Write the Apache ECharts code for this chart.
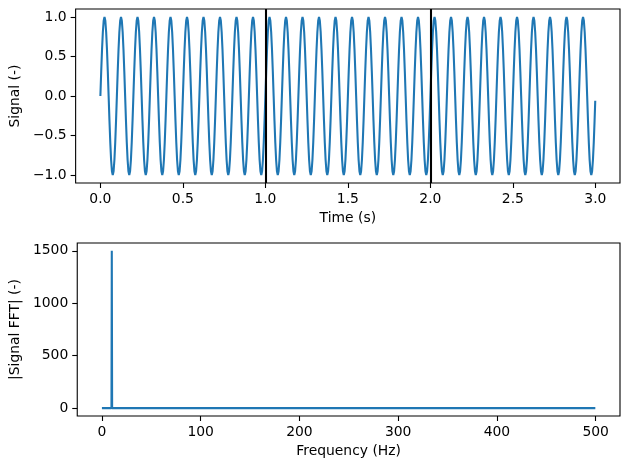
<!DOCTYPE html>
<html>
<head>
<meta charset="utf-8">
<script src="https://cdn.jsdelivr.net/npm/echarts@6/dist/echarts.min.js"></script>
<style>html,body{margin:0;padding:0;background:#fff;}#c{width:630px;height:469px;}</style>
</head>
<body>
<div id="c"></div>
<script>
// Time samples (s)
const time = [
0,0.005,0.01,0.015,0.02,0.025,0.03,0.035,0.04,0.045,0.05,0.055,0.06,0.065,0.07,0.075,0.08,0.085,0.09,0.095,
0.1,0.105,0.11,0.115,0.12,0.125,0.13,0.135,0.14,0.145,0.15,0.155,0.16,0.165,0.17,0.175,0.18,0.185,0.19,0.195,
0.2,0.205,0.21,0.215,0.22,0.225,0.23,0.235,0.24,0.245,0.25,0.255,0.26,0.265,0.27,0.275,0.28,0.285,0.29,0.295,
0.3,0.305,0.31,0.315,0.32,0.325,0.33,0.335,0.34,0.345,0.35,0.355,0.36,0.365,0.37,0.375,0.38,0.385,0.39,0.395,
0.4,0.405,0.41,0.415,0.42,0.425,0.43,0.435,0.44,0.445,0.45,0.455,0.46,0.465,0.47,0.475,0.48,0.485,0.49,0.495,
0.5,0.505,0.51,0.515,0.52,0.525,0.53,0.535,0.54,0.545,0.55,0.555,0.56,0.565,0.57,0.575,0.58,0.585,0.59,0.595,
0.6,0.605,0.61,0.615,0.62,0.625,0.63,0.635,0.64,0.645,0.65,0.655,0.66,0.665,0.67,0.675,0.68,0.685,0.69,0.695,
0.7,0.705,0.71,0.715,0.72,0.725,0.73,0.735,0.74,0.745,0.75,0.755,0.76,0.765,0.77,0.775,0.78,0.785,0.79,0.795,
0.8,0.805,0.81,0.815,0.82,0.825,0.83,0.835,0.84,0.845,0.85,0.855,0.86,0.865,0.87,0.875,0.88,0.885,0.89,0.895,
0.9,0.905,0.91,0.915,0.92,0.925,0.93,0.935,0.94,0.945,0.95,0.955,0.96,0.965,0.97,0.975,0.98,0.985,0.99,0.995,
1.0,1.005,1.01,1.015,1.02,1.025,1.03,1.035,1.04,1.045,1.05,1.055,1.06,1.065,1.07,1.075,1.08,1.085,1.09,1.095,
1.1,1.105,1.11,1.115,1.12,1.125,1.13,1.135,1.14,1.145,1.15,1.155,1.16,1.165,1.17,1.175,1.18,1.185,1.19,1.195,
1.2,1.205,1.21,1.215,1.22,1.225,1.23,1.235,1.24,1.245,1.25,1.255,1.26,1.265,1.27,1.275,1.28,1.285,1.29,1.295,
1.3,1.305,1.31,1.315,1.32,1.325,1.33,1.335,1.34,1.345,1.35,1.355,1.36,1.365,1.37,1.375,1.38,1.385,1.39,1.395,
1.4,1.405,1.41,1.415,1.42,1.425,1.43,1.435,1.44,1.445,1.45,1.455,1.46,1.465,1.47,1.475,1.48,1.485,1.49,1.495,
1.5,1.505,1.51,1.515,1.52,1.525,1.53,1.535,1.54,1.545,1.55,1.555,1.56,1.565,1.57,1.575,1.58,1.585,1.59,1.595,
1.6,1.605,1.61,1.615,1.62,1.625,1.63,1.635,1.64,1.645,1.65,1.655,1.66,1.665,1.67,1.675,1.68,1.685,1.69,1.695,
1.7,1.705,1.71,1.715,1.72,1.725,1.73,1.735,1.74,1.745,1.75,1.755,1.76,1.765,1.77,1.775,1.78,1.785,1.79,1.795,
1.8,1.805,1.81,1.815,1.82,1.825,1.83,1.835,1.84,1.845,1.85,1.855,1.86,1.865,1.87,1.875,1.88,1.885,1.89,1.895,
1.9,1.905,1.91,1.915,1.92,1.925,1.93,1.935,1.94,1.945,1.95,1.955,1.96,1.965,1.97,1.975,1.98,1.985,1.99,1.995,
2.0,2.005,2.01,2.015,2.02,2.025,2.03,2.035,2.04,2.045,2.05,2.055,2.06,2.065,2.07,2.075,2.08,2.085,2.09,2.095,
2.1,2.105,2.11,2.115,2.12,2.125,2.13,2.135,2.14,2.145,2.15,2.155,2.16,2.165,2.17,2.175,2.18,2.185,2.19,2.195,
2.2,2.205,2.21,2.215,2.22,2.225,2.23,2.235,2.24,2.245,2.25,2.255,2.26,2.265,2.27,2.275,2.28,2.285,2.29,2.295,
2.3,2.305,2.31,2.315,2.32,2.325,2.33,2.335,2.34,2.345,2.35,2.355,2.36,2.365,2.37,2.375,2.38,2.385,2.39,2.395,
2.4,2.405,2.41,2.415,2.42,2.425,2.43,2.435,2.44,2.445,2.45,2.455,2.46,2.465,2.47,2.475,2.48,2.485,2.49,2.495,
2.5,2.505,2.51,2.515,2.52,2.525,2.53,2.535,2.54,2.545,2.55,2.555,2.56,2.565,2.57,2.575,2.58,2.585,2.59,2.595,
2.6,2.605,2.61,2.615,2.62,2.625,2.63,2.635,2.64,2.645,2.65,2.655,2.66,2.665,2.67,2.675,2.68,2.685,2.69,2.695,
2.7,2.705,2.71,2.715,2.72,2.725,2.73,2.735,2.74,2.745,2.75,2.755,2.76,2.765,2.77,2.775,2.78,2.785,2.79,2.795,
2.8,2.805,2.81,2.815,2.82,2.825,2.83,2.835,2.84,2.845,2.85,2.855,2.86,2.865,2.87,2.875,2.88,2.885,2.89,2.895,
2.9,2.905,2.91,2.915,2.92,2.925,2.93,2.935,2.94,2.945,2.95,2.955,2.96,2.965,2.97,2.975,2.98,2.985,2.99,2.995,
2.999
];
// Signal values (-)
const signal = [
0,0.309,0.588,0.809,0.951,1,0.951,0.809,0.588,0.309,0,-0.309,-0.588,-0.809,-0.951,-1,-0.951,-0.809,-0.588,-0.309,
0,0.309,0.588,0.809,0.951,1,0.951,0.809,0.588,0.309,0,-0.309,-0.588,-0.809,-0.951,-1,-0.951,-0.809,-0.588,-0.309,
0,0.309,0.588,0.809,0.951,1,0.951,0.809,0.588,0.309,0,-0.309,-0.588,-0.809,-0.951,-1,-0.951,-0.809,-0.588,-0.309,
0,0.309,0.588,0.809,0.951,1,0.951,0.809,0.588,0.309,0,-0.309,-0.588,-0.809,-0.951,-1,-0.951,-0.809,-0.588,-0.309,
0,0.309,0.588,0.809,0.951,1,0.951,0.809,0.588,0.309,0,-0.309,-0.588,-0.809,-0.951,-1,-0.951,-0.809,-0.588,-0.309,
0,0.309,0.588,0.809,0.951,1,0.951,0.809,0.588,0.309,0,-0.309,-0.588,-0.809,-0.951,-1,-0.951,-0.809,-0.588,-0.309,
0,0.309,0.588,0.809,0.951,1,0.951,0.809,0.588,0.309,0,-0.309,-0.588,-0.809,-0.951,-1,-0.951,-0.809,-0.588,-0.309,
0,0.309,0.588,0.809,0.951,1,0.951,0.809,0.588,0.309,0,-0.309,-0.588,-0.809,-0.951,-1,-0.951,-0.809,-0.588,-0.309,
0,0.309,0.588,0.809,0.951,1,0.951,0.809,0.588,0.309,0,-0.309,-0.588,-0.809,-0.951,-1,-0.951,-0.809,-0.588,-0.309,
0,0.309,0.588,0.809,0.951,1,0.951,0.809,0.588,0.309,0,-0.309,-0.588,-0.809,-0.951,-1,-0.951,-0.809,-0.588,-0.309,
0,0.309,0.588,0.809,0.951,1,0.951,0.809,0.588,0.309,0,-0.309,-0.588,-0.809,-0.951,-1,-0.951,-0.809,-0.588,-0.309,
0,0.309,0.588,0.809,0.951,1,0.951,0.809,0.588,0.309,0,-0.309,-0.588,-0.809,-0.951,-1,-0.951,-0.809,-0.588,-0.309,
0,0.309,0.588,0.809,0.951,1,0.951,0.809,0.588,0.309,0,-0.309,-0.588,-0.809,-0.951,-1,-0.951,-0.809,-0.588,-0.309,
0,0.309,0.588,0.809,0.951,1,0.951,0.809,0.588,0.309,0,-0.309,-0.588,-0.809,-0.951,-1,-0.951,-0.809,-0.588,-0.309,
0,0.309,0.588,0.809,0.951,1,0.951,0.809,0.588,0.309,0,-0.309,-0.588,-0.809,-0.951,-1,-0.951,-0.809,-0.588,-0.309,
0,0.309,0.588,0.809,0.951,1,0.951,0.809,0.588,0.309,0,-0.309,-0.588,-0.809,-0.951,-1,-0.951,-0.809,-0.588,-0.309,
0,0.309,0.588,0.809,0.951,1,0.951,0.809,0.588,0.309,0,-0.309,-0.588,-0.809,-0.951,-1,-0.951,-0.809,-0.588,-0.309,
0,0.309,0.588,0.809,0.951,1,0.951,0.809,0.588,0.309,0,-0.309,-0.588,-0.809,-0.951,-1,-0.951,-0.809,-0.588,-0.309,
0,0.309,0.588,0.809,0.951,1,0.951,0.809,0.588,0.309,0,-0.309,-0.588,-0.809,-0.951,-1,-0.951,-0.809,-0.588,-0.309,
0,0.309,0.588,0.809,0.951,1,0.951,0.809,0.588,0.309,0,-0.309,-0.588,-0.809,-0.951,-1,-0.951,-0.809,-0.588,-0.309,
0,0.309,0.588,0.809,0.951,1,0.951,0.809,0.588,0.309,0,-0.309,-0.588,-0.809,-0.951,-1,-0.951,-0.809,-0.588,-0.309,
0,0.309,0.588,0.809,0.951,1,0.951,0.809,0.588,0.309,0,-0.309,-0.588,-0.809,-0.951,-1,-0.951,-0.809,-0.588,-0.309,
0,0.309,0.588,0.809,0.951,1,0.951,0.809,0.588,0.309,0,-0.309,-0.588,-0.809,-0.951,-1,-0.951,-0.809,-0.588,-0.309,
0,0.309,0.588,0.809,0.951,1,0.951,0.809,0.588,0.309,0,-0.309,-0.588,-0.809,-0.951,-1,-0.951,-0.809,-0.588,-0.309,
0,0.309,0.588,0.809,0.951,1,0.951,0.809,0.588,0.309,0,-0.309,-0.588,-0.809,-0.951,-1,-0.951,-0.809,-0.588,-0.309,
0,0.309,0.588,0.809,0.951,1,0.951,0.809,0.588,0.309,0,-0.309,-0.588,-0.809,-0.951,-1,-0.951,-0.809,-0.588,-0.309,
0,0.309,0.588,0.809,0.951,1,0.951,0.809,0.588,0.309,0,-0.309,-0.588,-0.809,-0.951,-1,-0.951,-0.809,-0.588,-0.309,
0,0.309,0.588,0.809,0.951,1,0.951,0.809,0.588,0.309,0,-0.309,-0.588,-0.809,-0.951,-1,-0.951,-0.809,-0.588,-0.309,
0,0.309,0.588,0.809,0.951,1,0.951,0.809,0.588,0.309,0,-0.309,-0.588,-0.809,-0.951,-1,-0.951,-0.809,-0.588,-0.309,
0,0.309,0.588,0.809,0.951,1,0.951,0.809,0.588,0.309,0,-0.309,-0.588,-0.809,-0.951,-1,-0.951,-0.809,-0.588,-0.309,
-0.06
];
// Markers at these times
const markerTimes = [1, 2];
// FFT spectrum
const frequency = [0, 9.667, 10, 10.333, 499.667];
const fftMagnitude = [0, 0, 1500, 0, 0];
// Tick labels
const timeTicks = [0, 0.5, 1, 1.5, 2, 2.5, 3];
const signalTicks = [-1, -0.5, 0, 0.5, 1];
const freqTicks = [0, 100, 200, 300, 400, 500];
const magTicks = [0, 500, 1000, 1500];

const FONT = 'DejaVu Sans';
const FS = 13.9;
const minus = s => String(s).replace('-', '\u2212');

function axisCommon(ticks, fmt, name, gap) {
  return {
    type: 'value',
    name: name,
    nameLocation: 'middle',
    nameGap: gap,
    nameTextStyle: { fontFamily: FONT, fontSize: FS, color: '#000' },
    axisLine: { show: false, onZero: false },
    splitLine: { show: false },
    axisTick: { show: true, inside: false, length: 5, customValues: ticks, lineStyle: { color: '#000', width: 1.1 } },
    axisLabel: { show: true, customValues: ticks, margin: 9, fontFamily: FONT, fontSize: FS, color: '#000', formatter: v => minus(fmt(v)) }
  };
}

const chart = echarts.init(document.getElementById('c'), null, { renderer: 'canvas' });
chart.setOption({
  animation: false,
  backgroundColor: '#fff',
  grid: [
    { left: 75, top: 9, width: 545, height: 174, show: true, borderColor: '#000', borderWidth: 1.1, backgroundColor: 'transparent' },
    { left: 75, top: 243, width: 545, height: 173, show: true, borderColor: '#000', borderWidth: 1.1, backgroundColor: 'transparent' }
  ],
  xAxis: [
    Object.assign(axisCommon(timeTicks, v => v.toFixed(1), 'Time (s)', 28), { gridIndex: 0, min: -0.15, max: 3.149, position: 'bottom' }),
    Object.assign(axisCommon(freqTicks, v => String(v), 'Frequency (Hz)', 28), { gridIndex: 1, min: -24.98, max: 524.65, position: 'bottom' })
  ],
  yAxis: [
    Object.assign(axisCommon(signalTicks, v => v.toFixed(1), 'Signal (-)', 42), { gridIndex: 0, min: -1.1, max: 1.1, position: 'left' }),
    Object.assign(axisCommon(magTicks, v => String(v), '|Signal FFT| (-)', 50), { gridIndex: 1, min: -75, max: 1575, position: 'left' })
  ],
  series: [
    {
      type: 'line', xAxisIndex: 0, yAxisIndex: 0,
      data: time.map((t, i) => [t, signal[i]]),
      showSymbol: false, symbol: 'none', sampling: null,
      lineStyle: { color: '#1f77b4', width: 2.08 },
      markLine: {
        silent: true, symbol: ['none', 'none'], label: { show: false },
        lineStyle: { color: '#000', width: 2.08, type: 'solid' },
        data: markerTimes.map(t => ({ xAxis: t }))
      }
    },
    {
      type: 'line', xAxisIndex: 1, yAxisIndex: 1,
      data: frequency.map((f, i) => [f, fftMagnitude[i]]),
      showSymbol: false, symbol: 'none',
      lineStyle: { color: '#1f77b4', width: 2.08 }
    }
  ]
});
</script>
</body>
</html>
